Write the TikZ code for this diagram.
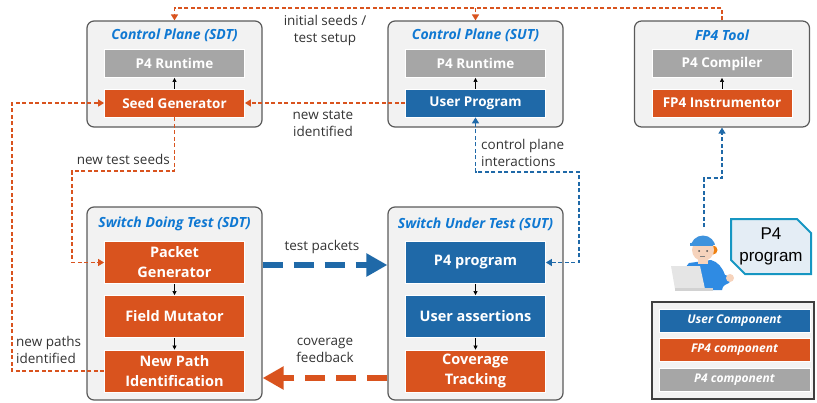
\documentclass[tikz,border=0pt]{standalone}
\usepackage{fontspec}
\setmainfont{Open Sans}
\newfontfamily\arialfont{Liberation Sans}
\usetikzlibrary{arrows.meta,positioning,shapes.misc}

\definecolor{fporange}{HTML}{D9531E}
\definecolor{userblue}{HTML}{1F69A8}
\definecolor{ptgray}{HTML}{A6A6A6}
\definecolor{titleblue}{HTML}{0F78D2}
\definecolor{panelfill}{HTML}{F2F2F2}
\definecolor{paneledge}{HTML}{5A5A5A}
\definecolor{lbl}{HTML}{333333}
\definecolor{skin}{HTML}{F6D3BC}
\definecolor{capblue}{HTML}{3F93DD}
\definecolor{shirt}{HTML}{2F8BE3}

\begin{document}
\begin{tikzpicture}[x=1pt, y=-1pt,
    panel/.style={draw=paneledge, fill=panelfill, line width=1.2pt, rounded corners=7pt,
      minimum width=175pt, minimum height=106pt, inner sep=0pt},
    tall/.style={minimum height=193pt},
    title/.style={text=titleblue, font=\bfseries\itshape\fontsize{14}{16}\selectfont},
    comp/.style={draw=white, line width=0.8pt, text=white, minimum width=140pt, minimum height=28pt,
      inner sep=0pt, align=center, font=\bfseries\fontsize{13.5}{19}\selectfont},
    big/.style={minimum height=42pt, font=\bfseries\fontsize{14.5}{20}\selectfont},
    usr/.style={comp, fill=userblue}, fp/.style={comp, fill=fporange}, pf/.style={comp, fill=ptgray},
    key/.style={usr, minimum width=151pt, minimum height=23pt, font=\bfseries\itshape\fontsize{12}{14}\selectfont},
    lab/.style={text=lbl, align=center, inner sep=0pt, font=\fontsize{13.5}{17}\selectfont},
    flow/.style={dash pattern=on 4pt off 2.5pt, line width=1.3pt, -{Triangle[length=6pt,width=7pt]}},
    oflow/.style={flow, draw=fporange},
    bflow/.style={flow, draw=userblue},
    fat/.style={line width=6.5pt, dash pattern=on 20pt off 11pt, -{Triangle[length=21pt,width=22pt]}},
    tiny/.style={line width=0.6pt, -{Triangle[length=4pt,width=4pt]}}
  ]
  \useasboundingbox (0,0) rectangle (817,402);

  % panels
  \node[panel] (cpsdt) at (174.5,74) {};
  \node[panel] (cpsut) at (475.5,74) {};
  \node[panel] (tool) at (722,74) {};
  \node[panel, tall] (sdt) at (174.5,303.5) {};
  \node[panel, tall] (sut) at (475.5,303.5) {};

  \node[title] at (174.5,35) {Control Plane (SDT)};
  \node[title] at (475.5,35) {Control Plane (SUT)};
  \node[title] at (722,35) {FP4 Tool};
  \node[title] at (174.5,224) {Switch Doing Test (SDT)};
  \node[title] at (475.5,224) {Switch Under Test (SUT)};

  \node[pf] (rtsdt) at (174.5,63.5) {P4 Runtime};
  \node[fp] (seedgen) at (174.5,103) {Seed Generator};
  \node[pf] (rtsut) at (475.5,63.5) {P4 Runtime};
  \node[usr] (userprog) at (475.5,103) {User Program};
  \node[pf] (compiler) at (722,63.5) {P4 Compiler};
  \node[fp] (instr) at (722,103) {FP4 Instrumentor};

  \node[fp, big] (pktgen) at (174.5,262.5) {Packet\\Generator};
  \node[fp, big] (mutator) at (174.5,316.5) {Field Mutator};
  \node[fp, big] (newpath) at (174.5,371) {New Path\\Identification};
  \node[usr, big] (p4prog) at (475.5,262.5) {P4 program};
  \node[usr, big] (asserts) at (475.5,316.5) {User assertions};
  \node[fp, big] (covtrack) at (475.5,371) {Coverage\\Tracking};

  \foreach \a/\b in {seedgen/rtsdt, userprog/rtsut, instr/compiler, pktgen/mutator, mutator/newpath,
                     p4prog/asserts, asserts/covtrack}
    \draw[tiny] (\a) -- (\b);

  % legend
  \node[draw=paneledge!70!black, fill=panelfill, line width=1.2pt, minimum width=162pt,
        minimum height=97pt] (legend) at (733,350.5) {};
  \node[key] (kuser) at (734.5,320.5) {User Component};
  \node[key, fill=fporange] (kfp) at (734.5,350) {FP4 component};
  \node[key, fill=ptgray] (kp4) at (734.5,380) {P4 component};

  % developer with the P4 source
  \fill[shirt] (689,263) .. controls (682,270) and (683,283) .. (685,290) -- (722,290)
    .. controls (723,284) and (726,285) .. (729,283) -- (732,277) -- (725,275)
    .. controls (722,267) and (718,262) .. (711,260) -- cycle;
  \fill[skin] (730,278) circle (4);
  \fill[orange!75!brown] (713,250) circle (4.5);
  \fill[skin] (703,250) circle (11);
  \fill[skin] (698,258) rectangle (708,264);
  \begin{scope}
    \clip (688,228) rectangle (720,244);
    \fill[capblue] (703,248) circle (12.5);
  \end{scope}
  \fill[capblue] (690,243) rectangle (713,246);
  \fill[black!70] (699,251) circle (1) (707,251) circle (1);
  \draw[black!50, line width=0.6pt] (700,256) -- (705,256);
  \fill[gray!20] (671,266) -- (700,266) -- (705,289) -- (675,289) -- cycle;
  \fill[gray!35] (675,288) rectangle (713,291);
  \coordinate (dev) at (704,227);

  \node[chamfered rectangle, chamfered rectangle corners={north east, south west},
        chamfered rectangle xsep=7pt, chamfered rectangle ysep=7pt,
        draw=userblue!70!cyan, line width=2pt, fill=userblue!12, minimum width=80pt, minimum height=55pt,
        inner sep=0pt, align=center, font=\arialfont\fontsize{17}{22}\selectfont] (p4src) at (771,246.5) {P4\\program};

  % connectors
  \coordinate (top) at (0,8);
  \draw[oflow] (tool.north) -- (tool.north |- top) -| (cpsdt.north);
  \draw[oflow] (cpsut.north |- top) -- (cpsut.north);
  \node[lab] at (325,30.5) {initial seeds /\\test setup};

  \draw[oflow] (userprog.west) -- (seedgen.east);
  \node[lab] at (323,123.5) {new state\\identified};

  \coordinate (seeds) at (72,171);
  \draw[oflow] (seedgen.south) |- (seeds) |- (pktgen.west);
  \node[lab, anchor=east] at (170,159) {new test seeds};

  \coordinate (paths) at (12,0);
  \draw[oflow] (newpath.west) -- (newpath.west -| paths) |- (seedgen.west);
  \node[lab, align=left, anchor=west] at (16,349.5) {new paths\\identified};

  \coordinate (cpi) at (579,172);
  \draw[bflow, {Triangle[length=6pt,width=7pt]}-{Triangle[length=6pt,width=7pt]}]
    (p4prog.east) -| (cpi) -| (userprog.south);
  \node[lab, align=left, anchor=west] at (481,152.5) {control plane\\interactions};

  \coordinate (dev2) at (0,178);
  \draw[bflow] (dev) -- (dev |- dev2) -| (tool.south);

  \coordinate (pkts) at (0,265);
  \draw[fat, draw=userblue] (sdt.east |- pkts) -- (sut.west |- pkts);
  \node[lab] at (322,247) {test packets};

  \coordinate (fb) at (0,378);
  \draw[fat, draw=fporange] (sut.west |- fb) -- (sdt.east |- fb);
  \node[lab] at (325,350.5) {coverage\\feedback};
\end{tikzpicture}
\end{document}
